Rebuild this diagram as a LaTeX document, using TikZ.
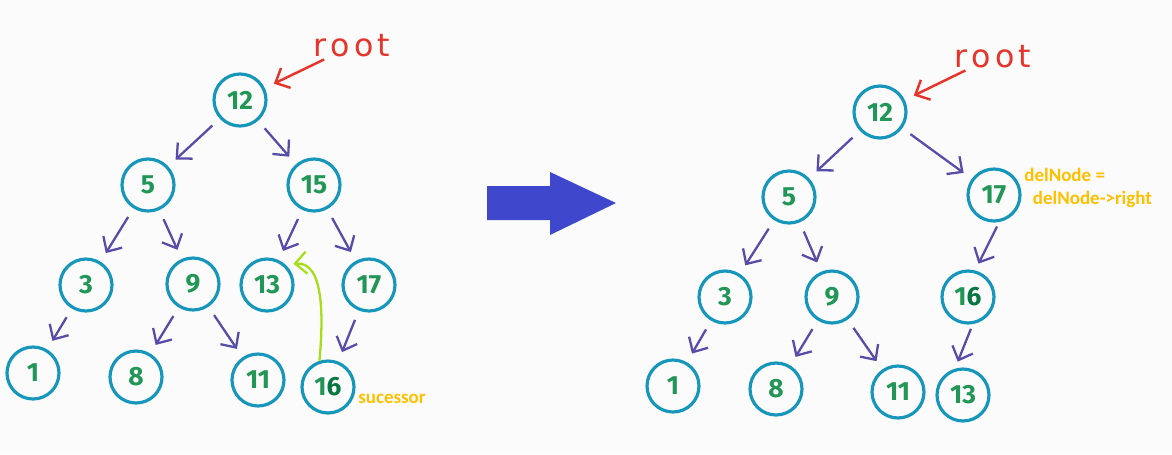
\documentclass[tikz,border=0pt]{standalone}
\usepackage{fontspec}
\usepackage{tikz}
\usetikzlibrary{arrows.meta}
\newfontfamily\digitfont{Fira Sans}
\newfontfamily\notefont{Carlito}
\newfontfamily\rootfont[LetterSpace=14]{DejaVu Sans}
\definecolor{paper}{RGB}{251,251,251}
\definecolor{ring}{RGB}{22,150,186}
\definecolor{num}{RGB}{34,150,86}
\definecolor{darknum}{RGB}{8,118,66}
\definecolor{link}{RGB}{88,76,168}
\definecolor{rootred}{RGB}{230,52,42}
\definecolor{note}{RGB}{255,192,0}
\definecolor{succgreen}{RGB}{166,222,28}
\definecolor{bigblue}{RGB}{63,72,204}

\begin{document}
\begin{tikzpicture}[x=0.02cm,y=-0.02cm,>={Straight Barb[length=2.3mm,width=4.4mm]},
  key/.style={circle,draw=ring,line width=1.8pt,minimum size=1.04cm,inner sep=0pt,text=num,font=\digitfont\bfseries\fontsize{15}{15}\selectfont},
  edge/.style={->,draw=link,line width=1.3pt,shorten <=2mm,shorten >=2mm},
  rootlbl/.style={text=rootred,inner sep=1pt,font=\rootfont\fontsize{18}{18}\selectfont},
  rootptr/.style={->,draw=rootred,line width=1.4pt,shorten >=2mm},
  notelbl/.style={text=note,inner sep=0pt,align=left,font=\notefont\bfseries\fontsize{10.8}{13}\selectfont},
  succ/.style={->,draw=succgreen,line width=1.3pt,shorten >=1.6mm}]
\fill[paper] (0,0) rectangle (1172,454);
% left tree: before deletion
\node[key] (l12) at (240,100) {12};
\node[key] (l5) at (148,185) {5};
\node[key] (l15) at (314,185) {15};
\node[key] (l3) at (86,285) {3};
\node[key] (l9) at (193,284) {9};
\node[key] (l13) at (267,285) {13};
\node[key] (l17) at (369,285) {17};
\node[key] (l1) at (33,373) {1};
\node[key] (l8) at (136,377) {8};
\node[key] (l11) at (258,380) {11};
\node[key] (l16) at (328,387) {1\textcolor{darknum}{6}};
\node[rootlbl] (lroot) at (352,46) {root};
\node[notelbl,anchor=west] (lsucc) at (358,399) {sucessor};
\draw[rootptr] (lroot)--(l12);
\draw[edge] (l12)--(l5);
\draw[edge] (l12)--(l15);
\draw[edge] (l5)--(l3);
\draw[edge] (l5)--(l9);
\draw[edge] (l15)--(l13);
\draw[edge] (l15)--(l17);
\draw[edge] (l3)--(l1);
\draw[edge] (l9)--(l8);
\draw[edge] (l9)--(l11);
\draw[edge] (l17)--(l16);
\draw[succ] (l16.108) to[out=85,in=5] (l13.48);
% middle arrow
\fill[bigblue] (487,186) -- (550,186) -- (550,172) -- (616,203) -- (550,235) -- (550,220) -- (487,220) -- cycle;
% right tree: after deletion
\node[key] (r12) at (880,112) {12};
\node[key] (r5) at (789,197) {5};
\node[key] (r17) at (994,195) {17};
\node[key] (r3) at (725,297) {3};
\node[key] (r9) at (832,297) {9};
\node[key] (r16) at (968,297) {1\textcolor{darknum}{6}};
\node[key] (r1) at (673,386) {1};
\node[key] (r8) at (776,389) {8};
\node[key] (r11) at (898,392) {11};
\node[key] (r13) at (963,395) {13};
\node[rootlbl] (rroot) at (993,57) {root};
\node[notelbl,anchor=north west] (rdel) at (1024,168) {delNode =\\\hspace*{0.45em}delNode->right};
\draw[rootptr] (rroot)--(r12);
\draw[edge] (r12)--(r5);
\draw[edge] (r12)--(r17);
\draw[edge] (r5)--(r3);
\draw[edge] (r5)--(r9);
\draw[edge,shorten <=1mm,shorten >=1.5mm] (r17.-79)--(r16.75);
\draw[edge] (r3)--(r1);
\draw[edge] (r9)--(r8);
\draw[edge] (r9)--(r11);
\draw[edge,shorten <=1mm,shorten >=1.5mm] (r16.-80)--(r13.107);
\end{tikzpicture}
\end{document}
